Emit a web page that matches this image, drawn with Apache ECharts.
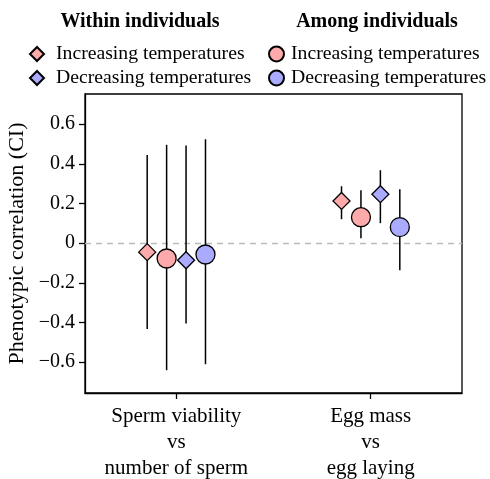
<!DOCTYPE html>
<html>
<head>
<meta charset="utf-8">
<script src="https://cdn.jsdelivr.net/npm/echarts@6/dist/echarts.min.js"></script>
<style>
  html, body { margin: 0; padding: 0; background: #fff; }
  #chart { width: 490px; height: 479px; }
</style>
</head>
<body>
<div id="chart"></div>
<script>
const categories = ['Sperm viability\nvs\nnumber of sperm', 'Egg mass\nvs\negg laying']
const yTicks = [-0.6, -0.4, -0.2, 0, 0.2, 0.4, 0.6]

// estimate, lower CI, upper CI for each category
const withinInc = [-0.045, 0.213]
const withinIncLo = [-0.432, 0.121]
const withinIncHi = [0.445, 0.287]
const amongInc = [-0.077, 0.131]
const amongIncLo = [-0.640, 0.025]
const amongIncHi = [0.496, 0.267]
const withinDec = [-0.086, 0.247]
const withinDecLo = [-0.405, 0.101]
const withinDecHi = [0.493, 0.368]
const amongDec = [-0.057, 0.081]
const amongDecLo = [-0.610, -0.136]
const amongDecHi = [0.524, 0.272]

const font = 'Liberation Serif'
const pink = '#FFAAAA'
const blue = '#AAAAFF'

const groups = [
  { id: 'w_inc', label: 'Increasing temperatures', est: withinInc, lo: withinIncLo, hi: withinIncHi, dx: -0.15, symbol: 'diamond', size: 17, color: pink },
  { id: 'a_inc', label: 'Increasing temperatures', est: amongInc, lo: amongIncLo, hi: amongIncHi, dx: -0.05, symbol: 'circle', size: 19, color: pink },
  { id: 'w_dec', label: 'Decreasing temperatures', est: withinDec, lo: withinDecLo, hi: withinDecHi, dx: 0.05, symbol: 'diamond', size: 17, color: blue },
  { id: 'a_dec', label: 'Decreasing temperatures', est: amongDec, lo: amongDecLo, hi: amongDecHi, dx: 0.15, symbol: 'circle', size: 19, color: blue }
]
const labelOf = {}
groups.forEach(g => { labelOf[g.id] = g.label })

const chart = echarts.init(document.getElementById('chart'))

const series = []
// error bars first so points sit on top
groups.forEach(g => {
  series.push({
    type: 'custom',
    name: g.id + '_ci',
    silent: true,
    z: 2,
    encode: { x: 0, y: [1, 2] },
    data: g.est.map((v, i) => [i + 1 + g.dx, g.lo[i], g.hi[i]]),
    renderItem (params, api) {
      const p1 = api.coord([api.value(0), api.value(1)])
      const p2 = api.coord([api.value(0), api.value(2)])
      return {
        type: 'line',
        shape: { x1: p1[0], y1: p1[1], x2: p2[0], y2: p2[1] },
        style: { stroke: '#000', lineWidth: 1.5 }
      }
    }
  })
})
groups.forEach((g, k) => {
  const s = {
    type: 'scatter',
    name: g.id,
    symbol: g.symbol,
    symbolSize: g.size,
    z: 5,
    itemStyle: { color: g.color, borderColor: '#000', borderWidth: 1.3, opacity: 1 },
    data: g.est.map((v, i) => [i + 1 + g.dx, v])
  }
  if (k === 0) {
    s.markLine = {
      silent: true,
      symbol: 'none',
      label: { show: false },
      lineStyle: { color: '#bbbbbb', type: [6, 5], width: 1.3 },
      data: [{ yAxis: 0 }],
      z: 1
    }
  }
  series.push(s)
})

const legendBase = {
  orient: 'vertical',
  top: 39,
  itemWidth: 14,
  itemHeight: 14,
  itemGap: 4,
  selectedMode: false,
  formatter: name => labelOf[name]
}
const legendText = { fontFamily: font, fontSize: 19.7, lineHeight: 20, color: '#000' }

const option = {
  backgroundColor: '#fff',
  animation: false,
  textStyle: { fontFamily: font },
  graphic: [
    { type: 'text', x: 140, y: 22, style: { text: 'Within individuals', font: 'bold 20px "Liberation Serif"', fill: '#000', align: 'center', verticalAlign: 'middle' } },
    { type: 'text', x: 377, y: 22, style: { text: 'Among individuals', font: 'bold 20px "Liberation Serif"', fill: '#000', align: 'center', verticalAlign: 'middle' } }
  ],
  legend: [
    Object.assign({}, legendBase, {
      left: 24,
      data: ['w_inc', 'w_dec'],
      textStyle: Object.assign({}, legendText, { padding: [0, 0, 0, 7] })
    }),
    Object.assign({}, legendBase, {
      left: 263,
      itemWidth: 15,
      itemHeight: 15,
      data: ['a_inc', 'a_dec'],
      textStyle: Object.assign({}, legendText, { padding: [0, 0, 0, 2] })
    })
  ],
  grid: {
    left: 85,
    right: 28,
    top: 94,
    bottom: 86,
    outerBoundsMode: 'none',
    show: true,
    borderColor: '#000',
    borderWidth: 1.3
  },
  xAxis: {
    type: 'value',
    min: 0.53,
    max: 2.47,
    splitLine: { show: false },
    axisLine: { show: true, onZero: false, lineStyle: { color: '#000', width: 1.3 } },
    axisTick: { show: true, length: 6, lineStyle: { color: '#000', width: 1.3 }, customValues: [1, 2] },
    axisLabel: {
      customValues: [1, 2],
      formatter: v => categories[Math.round(v) - 1],
      color: '#000',
      fontFamily: font,
      fontSize: 21,
      lineHeight: 26,
      margin: 10
    }
  },
  yAxis: {
    type: 'value',
    min: -0.755,
    max: 0.752,
    name: 'Phenotypic correlation (CI)',
    nameLocation: 'middle',
    nameGap: 53,
    nameTextStyle: { color: '#000', fontFamily: font, fontSize: 22 },
    splitLine: { show: false },
    axisLine: { show: true, onZero: false, lineStyle: { color: '#000', width: 1.3 } },
    axisTick: { show: true, length: 6, lineStyle: { color: '#000', width: 1.3 }, customValues: yTicks },
    axisLabel: {
      customValues: yTicks,
      formatter: v => (Math.abs(v) < 1e-9 ? '0' : v.toFixed(1).replace('-', '\u2212')),
      color: '#000',
      fontFamily: font,
      fontSize: 20,
      margin: 10
    }
  },
  series: series
}

chart.setOption(option)
</script>
</body>
</html>
